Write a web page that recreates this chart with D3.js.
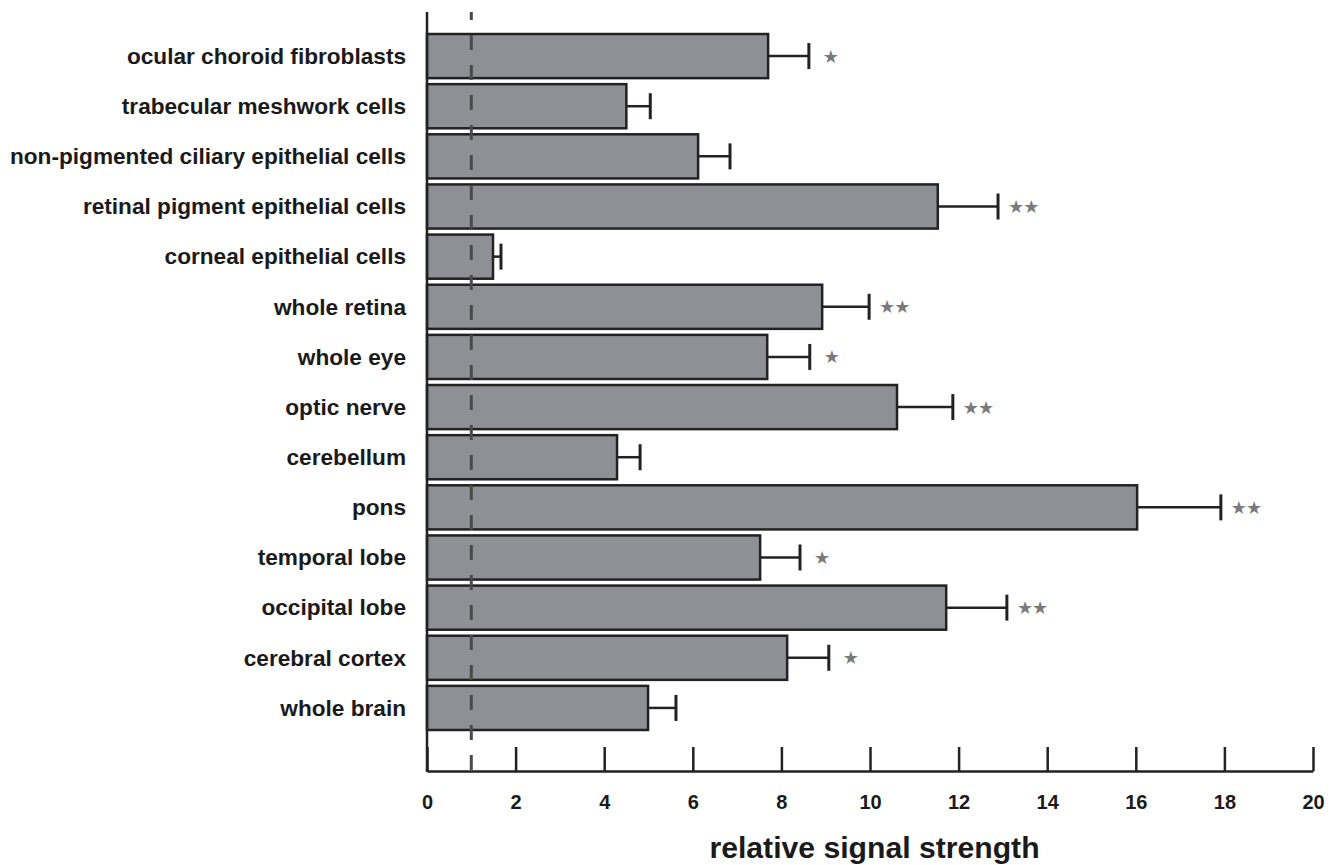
<!DOCTYPE html>
<html>
<head>
<meta charset="utf-8">
<script src="https://cdn.jsdelivr.net/npm/d3@7"></script>
<style>
  html, body { margin: 0; padding: 0; background: #fff; }
  svg { display: block; }
  text { font-family: "Liberation Sans", Arial, Helvetica, sans-serif; font-weight: bold; }
</style>
</head>
<body>
<svg id="chart" width="1341" height="865"></svg>
<script>
// ---- data ----
const categories = [
  "ocular choroid fibroblasts",
  "trabecular meshwork cells",
  "non-pigmented ciliary epithelial cells",
  "retinal pigment epithelial cells",
  "corneal epithelial cells",
  "whole retina",
  "whole eye",
  "optic nerve",
  "cerebellum",
  "pons",
  "temporal lobe",
  "occipital lobe",
  "cerebral cortex",
  "whole brain"
];
const values = [7.70, 4.50, 6.12, 11.53, 1.49, 8.92, 7.68, 10.61, 4.29, 16.03, 7.52, 11.72, 8.13, 4.99];
const errors = [0.92, 0.54, 0.72, 1.36, 0.18, 1.06, 0.96, 1.26, 0.52, 1.89, 0.90, 1.37, 0.94, 0.63];
const significance = ["*", "", "", "**", "", "**", "*", "**", "", "**", "*", "**", "*", ""];
const xTicks = [0, 2, 4, 6, 8, 10, 12, 14, 16, 18, 20];
const referenceLine = 1;
const xTitle = "relative signal strength";

// ---- layout ----
const svg = d3.select("#chart");
const x = d3.scaleLinear().domain([0, 20]).range([427, 1313]);
const y = d3.scaleBand().domain(categories).range([31, 733]).paddingInner(0.12).paddingOuter(0.06);
const axisY = 771, axisTop = 12;

// bars
svg.append("g").selectAll("rect").data(categories).join("rect")
  .attr("x", x(0))
  .attr("y", d => y(d))
  .attr("width", (d, i) => x(values[i]) - x(0))
  .attr("height", y.bandwidth())
  .attr("fill", "#8f9095")
  .attr("stroke", "#222")
  .attr("stroke-width", 2.5);

// error bars
const eg = svg.append("g").attr("stroke", "#222").attr("stroke-width", 2.5);
categories.forEach((c, i) => {
  const cy = y(c) + y.bandwidth() / 2;
  eg.append("line").attr("x1", x(values[i])).attr("x2", x(values[i] + errors[i])).attr("y1", cy).attr("y2", cy);
  eg.append("line").attr("x1", x(values[i] + errors[i])).attr("x2", x(values[i] + errors[i]))
    .attr("y1", cy - 13).attr("y2", cy + 13).attr("stroke-width", 3);
});

// significance stars
svg.append("g").selectAll("text").data(categories).join("text")
  .attr("x", (d, i) => x(values[i] + errors[i]) + (significance[i].length === 1 ? 14 : 10))
  .attr("y", d => y(d) + y.bandwidth() / 2)
  .attr("dy", "0.36em")
  .attr("fill", "#7a7a7c")
  .style("font-family", "DejaVu Sans")
  .attr("font-size", 18)
  .attr("letter-spacing", -1)
  .style("font-weight", "normal")
  .text((d, i) => significance[i].replace(/\*/g, "★"));

// dashed reference line
svg.append("line")
  .attr("x1", x(referenceLine)).attr("x2", x(referenceLine))
  .attr("y1", axisTop).attr("y2", axisY)
  .attr("stroke", "#4a4a4c").attr("stroke-width", 3)
  .attr("stroke-dasharray", "15,15").attr("stroke-dashoffset", 7);

// y axis line
svg.append("line").attr("x1", x(0)).attr("x2", x(0)).attr("y1", axisTop).attr("y2", axisY + 1)
  .attr("stroke", "#222").attr("stroke-width", 2.5);

// category labels
svg.append("g").selectAll("text").data(categories).join("text")
  .attr("transform", d => `translate(406,${y(d) + y.bandwidth() / 2}) scale(1.053,1)`)
  .attr("dy", "0.36em")
  .attr("text-anchor", "end")
  .attr("font-size", 21.5)
  .attr("fill", "#1a1a1a")
  .text(d => d);

// x axis
const xAxis = d3.axisBottom(x).tickValues(xTicks).tickSizeInner(-24).tickSizeOuter(0).tickPadding(14).tickFormat(d3.format("d"));
const gx = svg.append("g").attr("transform", `translate(0,${axisY})`).call(xAxis);
gx.select(".domain").attr("stroke", "#222").attr("stroke-width", 2.5);
gx.selectAll(".tick line").attr("stroke", "#222").attr("stroke-width", 2.5);
gx.selectAll(".tick text").attr("font-size", 20).attr("fill", "#1a1a1a")
  .style("font-family", "'Liberation Sans', Arial, sans-serif").style("font-weight", "bold")
  .attr("y", 24).attr("dy", "0.71em");

// x title
svg.append("text")
  .attr("transform", `translate(${(710 + 1039) / 2},858) scale(1.04,1)`)
  .attr("text-anchor", "middle")
  .attr("font-size", 29)
  .attr("fill", "#1a1a1a")
  .text(xTitle);
</script>
</body>
</html>
